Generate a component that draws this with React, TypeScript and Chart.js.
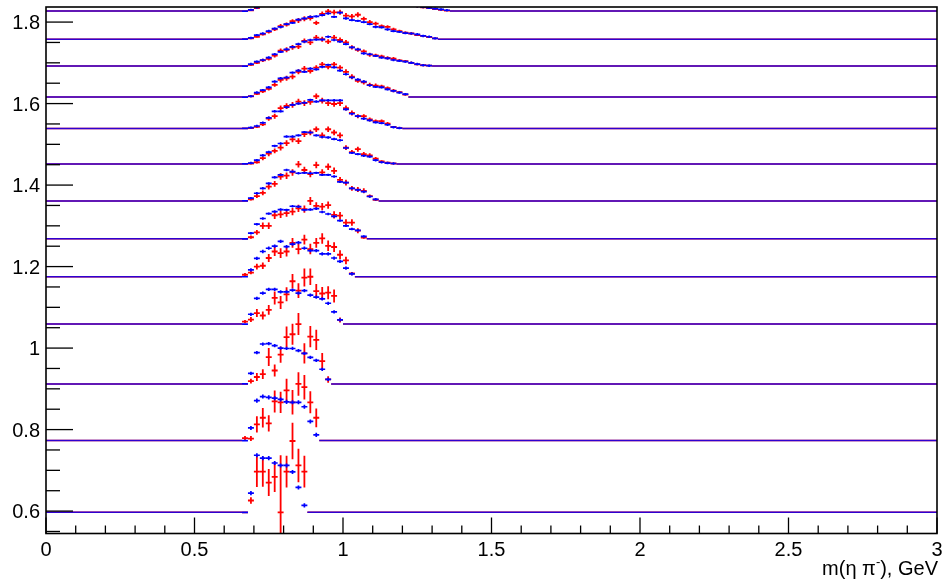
import React, { useEffect, useRef } from "react";
import { Chart, registerables } from "chart.js";
Chart.register(...registerables);

// ---------- axis / ticks ----------
const xMin = 0;
const xMax = 3;
const yMin = 0.545;
const yMax = 1.837;
const xMajorTicks = [0, 0.5, 1, 1.5, 2, 2.5, 3];
const xTickLabels = ["0", "0.5", "1", "1.5", "2", "2.5", "3"];
const yMajorTicks = [0.6, 0.8, 1.0, 1.2, 1.4, 1.6, 1.8];
const yTickLabels = ["0.6", "0.8", "1", "1.2", "1.4", "1.6", "1.8"];
const xMinorStep = 0.1;
const yMinorStep = 0.05;

// ---------- histogram binning ----------
const firstBinCenter = 0.67;
const binWidth = 0.02;

// baseline (vertical offset) of each stacked histogram, bottom to top
const rowOffsets = [0.597, 0.773, 0.912, 1.059, 1.175, 1.268, 1.361, 1.452, 1.539, 1.616, 1.692, 1.758, 1.827];

// blue histograms: content above the row baseline, bins from 0.67 in steps of 0.02
const blue0 = [0, 0.047, 0.140, 0.133, 0.133, 0.121, 0.115, 0.115, 0.099, 0.061, 0.017];
const blue1 = [0, 0.031, 0.098, 0.108, 0.106, 0.104, 0.101, 0.095, 0.094, 0.094, 0.083, 0.047, 0.014];
const blue2 = [0, 0.026, 0.077, 0.098, 0.099, 0.094, 0.088, 0.087, 0.087, 0.082, 0.075, 0.065, 0.058, 0.036, 0.011];
const blue3 = [0, 0.024, 0.063, 0.076, 0.085, 0.085, 0.079, 0.079, 0.083, 0.076, 0.082, 0.071, 0.066, 0.062, 0.051, 0.030, 0.010];
const blue4 = [0, 0.017, 0.045, 0.062, 0.070, 0.075, 0.087, 0.074, 0.080, 0.084, 0.070, 0.064, 0.064, 0.056, 0.056, 0.046, 0.038, 0.021, 0.007];
const blue5 = [0, 0.014, 0.036, 0.050, 0.062, 0.067, 0.072, 0.071, 0.080, 0.079, 0.071, 0.072, 0.074, 0.066, 0.061, 0.055, 0.045, 0.032, 0.024, 0.021, 0.006];
const blue6 = [0, 0.007, 0.019, 0.031, 0.043, 0.058, 0.064, 0.076, 0.072, 0.068, 0.069, 0.068, 0.069, 0.064, 0.064, 0.060, 0.047, 0.045, 0.031, 0.027, 0.023, 0.011, 0.004];
const blue7 = [0, 0.002, 0.009, 0.021, 0.029, 0.044, 0.050, 0.067, 0.067, 0.070, 0.078, 0.077, 0.070, 0.066, 0.065, 0.061, 0.058, 0.039, 0.027, 0.024, 0.020, 0.018, 0.009, 0.004, 0.002, 0.001];
const blue8 = [0, 0.002, 0.006, 0.014, 0.026, 0.042, 0.042, 0.052, 0.058, 0.061, 0.063, 0.070, 0.066, 0.069, 0.069, 0.069, 0.069, 0.047, 0.036, 0.030, 0.024, 0.020, 0.015, 0.013, 0.009, 0.003, 0.001];
const blue9 = [0, 0.002, 0.011, 0.017, 0.024, 0.038, 0.046, 0.048, 0.060, 0.065, 0.062, 0.070, 0.068, 0.074, 0.079, 0.073, 0.065, 0.056, 0.048, 0.043, 0.038, 0.029, 0.025, 0.024, 0.019, 0.015, 0.011, 0.007];
const blue10 = [0, 0.005, 0.011, 0.015, 0.021, 0.029, 0.035, 0.041, 0.047, 0.054, 0.060, 0.064, 0.065, 0.065, 0.072, 0.064, 0.060, 0.054, 0.046, 0.041, 0.031, 0.029, 0.025, 0.021, 0.019, 0.015, 0.013, 0.011, 0.008, 0.005, 0.002, 0.001];
const blue11 = [0, 0.003, 0.010, 0.014, 0.020, 0.026, 0.030, 0.037, 0.040, 0.048, 0.051, 0.055, 0.056, 0.059, 0.063, 0.055, 0.065, 0.051, 0.047, 0.045, 0.042, 0.037, 0.030, 0.029, 0.024, 0.020, 0.018, 0.015, 0.014, 0.012, 0.008, 0.006, 0.002];
const blue12 = [0, 0.003, 0.009, 0.014, 0.020, 0.026, 0.032, 0.037, 0.042, 0.047, 0.050, 0.054, 0.056, 0.059, 0.062, 0.062, 0.063, 0.058, 0.054, 0.050, 0.046, 0.042, 0.036, 0.032, 0.028, 0.024, 0.020, 0.017, 0.014, 0.012, 0.010, 0.008, 0.006, 0.004, 0.002];

// blue vertical error per row
const blueErr = [0.005, 0.005, 0.004, 0.004, 0.004, 0.003, 0.003, 0.003, 0.003, 0.003, 0.003, 0.003, 0.003];

// red histograms
const red0 = [0, 0.029, 0.100, 0.100, 0.073, 0.087, 0.000, 0.100, 0.175, 0.115, 0.100];
const red1 = [0.006, 0.005, 0.040, 0.056, 0.042, 0.096, 0.094, 0.123, 0.094, 0.139, 0.131, 0.094, 0.056];
const red2 = [0, 0.007, 0.017, 0.024, 0.066, 0.033, 0.072, 0.115, 0.122, 0.147, 0.075, 0.116, 0.108, 0.056, 0.011];
const red3 = [0.006, 0.011, 0.027, 0.021, 0.035, 0.064, 0.053, 0.073, 0.105, 0.082, 0.114, 0.116, 0.081, 0.075, 0.077, 0.069, 0.010];
const red4 = [0.005, 0.010, 0.025, 0.027, 0.046, 0.062, 0.058, 0.062, 0.083, 0.068, 0.091, 0.068, 0.083, 0.094, 0.076, 0.073, 0.054, 0.040, 0.008];
const red5 = [0, 0.004, 0.016, 0.032, 0.032, 0.058, 0.060, 0.063, 0.067, 0.075, 0.073, 0.093, 0.081, 0.079, 0.083, 0.059, 0.057, 0.040, 0.040, 0.020, 0.003];
const red6 = [0, 0.004, 0.012, 0.020, 0.035, 0.042, 0.060, 0.062, 0.070, 0.090, 0.076, 0.066, 0.088, 0.070, 0.084, 0.074, 0.052, 0.045, 0.031, 0.028, 0.025, 0.012, 0.003];
const red7 = [0, 0.001, 0.004, 0.014, 0.025, 0.032, 0.040, 0.051, 0.060, 0.056, 0.073, 0.077, 0.085, 0.070, 0.085, 0.077, 0.070, 0.040, 0.029, 0.036, 0.024, 0.021, 0.013, 0.006, 0.003, 0.001];
const red8 = [0, 0.001, 0.004, 0.010, 0.024, 0.030, 0.050, 0.055, 0.058, 0.066, 0.062, 0.065, 0.079, 0.068, 0.062, 0.060, 0.062, 0.050, 0.038, 0.030, 0.030, 0.022, 0.018, 0.018, 0.012, 0.004, 0.001];
const red9 = [0, 0.002, 0.008, 0.014, 0.020, 0.030, 0.042, 0.046, 0.050, 0.062, 0.070, 0.064, 0.072, 0.080, 0.074, 0.080, 0.072, 0.062, 0.050, 0.040, 0.036, 0.030, 0.028, 0.026, 0.022, 0.016, 0.012, 0.006];
const red10 = [0, 0.003, 0.008, 0.014, 0.018, 0.026, 0.038, 0.040, 0.046, 0.048, 0.062, 0.058, 0.070, 0.066, 0.060, 0.070, 0.064, 0.058, 0.046, 0.040, 0.036, 0.028, 0.026, 0.024, 0.020, 0.018, 0.014, 0.012, 0.008, 0.004, 0.002, 0.001];
const red11 = [0, 0.002, 0.006, 0.012, 0.018, 0.024, 0.032, 0.036, 0.044, 0.046, 0.050, 0.052, 0.040, 0.062, 0.068, 0.066, 0.066, 0.058, 0.056, 0.060, 0.050, 0.042, 0.038, 0.032, 0.030, 0.024, 0.020, 0.016, 0.014, 0.010, 0.008, 0.005, 0.002];
const red12 = [0, 0.002, 0.007, 0.013, 0.018, 0.027, 0.030, 0.038, 0.044, 0.045, 0.052, 0.050, 0.058, 0.062, 0.060, 0.066, 0.060, 0.056, 0.052, 0.048, 0.044, 0.040, 0.034, 0.030, 0.026, 0.022, 0.019, 0.016, 0.013, 0.012, 0.009, 0.007, 0.005, 0.003, 0.001];

// red vertical errors
const redErr0 = [0, 0.008, 0.038, 0.037, 0.033, 0.037, 0.140, 0.039, 0.045, 0.041, 0.039];
const redErr1 = [0.005, 0.006, 0.020, 0.024, 0.020, 0.027, 0.026, 0.029, 0.030, 0.029, 0.030, 0.027, 0.023];
const redErr2 = [0, 0.006, 0.010, 0.012, 0.022, 0.015, 0.020, 0.026, 0.026, 0.027, 0.025, 0.026, 0.025, 0.020, 0.008];
const redErr3 = [0.004, 0.006, 0.010, 0.010, 0.012, 0.016, 0.016, 0.017, 0.018, 0.018, 0.022, 0.020, 0.017, 0.016, 0.016, 0.016, 0.006];
const redErr4 = [0.004, 0.004, 0.007, 0.008, 0.010, 0.011, 0.012, 0.012, 0.012, 0.013, 0.012, 0.013, 0.012, 0.013, 0.013, 0.012, 0.011, 0.009, 0.004];
const redErr5 = [0, 0.004, 0.006, 0.008, 0.008, 0.009, 0.009, 0.009, 0.009, 0.009, 0.009, 0.010, 0.009, 0.009, 0.009, 0.009, 0.009, 0.008, 0.008, 0.006, 0.003];
const redErr6 = [0, 0.003, 0.005, 0.006, 0.007, 0.007, 0.008, 0.008, 0.008, 0.008, 0.008, 0.008, 0.008, 0.008, 0.008, 0.008, 0.007, 0.007, 0.006, 0.006, 0.006, 0.004, 0.003];
const redErr7 = [0, 0.002, 0.003, 0.005, 0.006, 0.006, 0.007, 0.007, 0.007, 0.007, 0.007, 0.007, 0.007, 0.007, 0.007, 0.007, 0.007, 0.006, 0.005, 0.006, 0.005, 0.005, 0.004, 0.003, 0.002, 0.001];
const redErr8 = [0, 0.001, 0.003, 0.004, 0.005, 0.006, 0.006, 0.007, 0.007, 0.007, 0.007, 0.007, 0.007, 0.007, 0.007, 0.007, 0.007, 0.006, 0.006, 0.005, 0.005, 0.005, 0.004, 0.004, 0.004, 0.002, 0.001];
const redErr9 = [0, 0.001, 0.003, 0.004, 0.004, 0.005, 0.006, 0.006, 0.006, 0.006, 0.006, 0.006, 0.006, 0.006, 0.006, 0.006, 0.006, 0.006, 0.006, 0.005, 0.005, 0.005, 0.005, 0.004, 0.004, 0.004, 0.003, 0.002];
const redErr10 = [0, 0.002, 0.003, 0.004, 0.004, 0.005, 0.005, 0.006, 0.006, 0.006, 0.006, 0.006, 0.006, 0.006, 0.006, 0.006, 0.006, 0.006, 0.005, 0.005, 0.005, 0.005, 0.004, 0.004, 0.004, 0.004, 0.003, 0.003, 0.003, 0.002, 0.001, 0.001];
const redErr11 = [0, 0.001, 0.002, 0.003, 0.004, 0.004, 0.005, 0.005, 0.005, 0.006, 0.006, 0.006, 0.005, 0.006, 0.006, 0.006, 0.006, 0.006, 0.006, 0.006, 0.005, 0.005, 0.005, 0.004, 0.004, 0.004, 0.003, 0.003, 0.003, 0.002, 0.002, 0.002, 0.001];
const redErr12 = [0, 0.001, 0.002, 0.003, 0.004, 0.004, 0.005, 0.005, 0.005, 0.005, 0.006, 0.006, 0.006, 0.006, 0.006, 0.006, 0.006, 0.006, 0.006, 0.005, 0.005, 0.005, 0.005, 0.004, 0.004, 0.004, 0.004, 0.003, 0.003, 0.003, 0.002, 0.002, 0.002, 0.001, 0.001];

const blueRows = [blue0, blue1, blue2, blue3, blue4, blue5, blue6, blue7, blue8, blue9, blue10, blue11, blue12];
const redRows = [red0, red1, red2, red3, red4, red5, red6, red7, red8, red9, red10, red11, red12];
const redErrRows = [redErr0, redErr1, redErr2, redErr3, redErr4, redErr5, redErr6, redErr7, redErr8, redErr9, redErr10, redErr11, redErr12];

const RED = "#ff0000";
const BLUE = "#0000ff";
const FONT = "'Liberation Sans', Arial, Helvetica, sans-serif";

function histPoints(values: number[], offset: number) {
  return values.map((v, i) => ({ x: firstBinCenter + i * binWidth, y: offset + v }));
}

function baselinePoints(values: number[], offset: number) {
  const lo = firstBinCenter - binWidth / 2;
  const hi = firstBinCenter + (values.length - 1) * binWidth + binWidth / 2;
  return [
    { x: xMin, y: offset },
    { x: lo, y: offset },
    { x: (lo + hi) / 2, y: null },
    { x: hi, y: offset },
    { x: xMax, y: offset },
  ];
}

const errorBarPlugin = {
  id: "rootErrorBars",
  afterDatasetsDraw(chart: any) {
    const { ctx, chartArea: a } = chart;
    const xs = chart.scales.x;
    const ys = chart.scales.y;
    ctx.save();
    ctx.beginPath();
    ctx.rect(a.left, a.top, a.right - a.left, a.bottom - a.top);
    ctx.clip();
    chart.data.datasets.forEach((ds: any) => {
      if (!ds.errs) return;
      ctx.strokeStyle = ds.borderColor;
      ctx.lineWidth = ds.errWidth;
      ds.data.forEach((p: any, j: number) => {
        const py = ys.getPixelForValue(p.y);
        const x0 = xs.getPixelForValue(p.x - binWidth / 2);
        const x1 = xs.getPixelForValue(p.x + binWidth / 2);
        ctx.beginPath();
        ctx.moveTo(x0, py);
        ctx.lineTo(x1, py);
        ctx.stroke();
        const e = ds.errs[j];
        if (e > 0) {
          const px = xs.getPixelForValue(p.x);
          ctx.beginPath();
          ctx.moveTo(px, ys.getPixelForValue(p.y - e));
          ctx.lineTo(px, ys.getPixelForValue(p.y + e));
          ctx.stroke();
        }
      });
    });
    ctx.restore();
  },
};

const frameAxesPlugin = {
  id: "rootFrameAxes",
  beforeDraw(chart: any) {
    const { ctx, width, height } = chart;
    ctx.save();
    ctx.fillStyle = "#ffffff";
    ctx.fillRect(0, 0, width, height);
    ctx.restore();
  },
  afterDraw(chart: any) {
    const { ctx, chartArea: a } = chart;
    const xs = chart.scales.x;
    const ys = chart.scales.y;
    ctx.save();
    ctx.strokeStyle = "#000";
    ctx.lineWidth = 1.3;
    const nY0 = Math.ceil(yMin / yMinorStep - 1e-6);
    const nY1 = Math.floor(yMax / yMinorStep + 1e-6);
    for (let i = nY0; i <= nY1; i++) {
      const v = i * yMinorStep;
      const major = yMajorTicks.some((t) => Math.abs(t - v) < 1e-6);
      const py = ys.getPixelForValue(v);
      ctx.beginPath();
      ctx.moveTo(a.left, py);
      ctx.lineTo(a.left + (major ? 27 : 14), py);
      ctx.stroke();
    }
    const nX1 = Math.round((xMax - xMin) / xMinorStep);
    for (let i = 0; i <= nX1; i++) {
      const v = xMin + i * xMinorStep;
      const major = xMajorTicks.some((t) => Math.abs(t - v) < 1e-6);
      const px = xs.getPixelForValue(v);
      ctx.beginPath();
      ctx.moveTo(px, a.bottom);
      ctx.lineTo(px, a.bottom - (major ? 16 : 8));
      ctx.stroke();
    }
    ctx.lineWidth = 1.6;
    ctx.strokeRect(a.left, a.top, a.right - a.left, a.bottom - a.top);
    ctx.fillStyle = "#000";
    ctx.font = `20px ${FONT}`;
    ctx.textAlign = "right";
    ctx.textBaseline = "alphabetic";
    yMajorTicks.forEach((t, i) => {
      ctx.fillText(yTickLabels[i], a.left - 6, ys.getPixelForValue(t) + 7.3);
    });
    ctx.textAlign = "center";
    xMajorTicks.forEach((t, i) => {
      ctx.fillText(xTickLabels[i], xs.getPixelForValue(t), a.bottom + 22.5);
    });
    // axis title: m(η π⁻), GeV
    const part1 = "m(\u03b7 \u03c0";
    const sup = "-";
    const part2 = "), GeV";
    ctx.font = `20px ${FONT}`;
    const w1 = ctx.measureText(part1).width;
    const w3 = ctx.measureText(part2).width;
    ctx.font = `13px ${FONT}`;
    const w2 = ctx.measureText(sup).width;
    const right = a.right + 1;
    const base = a.bottom + 41.5;
    const start = right - (w1 + w2 + w3);
    ctx.textAlign = "left";
    ctx.font = `20px ${FONT}`;
    ctx.fillText(part1, start, base);
    ctx.font = `13px ${FONT}`;
    ctx.fillText(sup, start + w1, base - 9);
    ctx.font = `20px ${FONT}`;
    ctx.fillText(part2, start + w1 + w2, base);
    ctx.restore();
  },
};

export default function App() {
  const ref = useRef<HTMLCanvasElement>(null);
  useEffect(() => {
    const datasets: any[] = [];
    rowOffsets.forEach((off, r) => {
      // red baseline drawn first (higher order), blue on top
      datasets.push({
        type: "line",
        order: 2,
        data: baselinePoints(redRows[r], off),
        borderColor: RED,
        borderWidth: 1.5,
        pointRadius: 0,
        spanGaps: false,
        fill: false,
        tension: 0,
      });
      datasets.push({
        type: "line",
        order: 1,
        data: baselinePoints(blueRows[r], off),
        borderColor: "rgba(0,0,255,0.82)",
        borderWidth: 1.5,
        pointRadius: 0,
        spanGaps: false,
        fill: false,
        tension: 0,
      });
    });
    rowOffsets.forEach((off, r) => {
      datasets.push({
        type: "scatter",
        order: 0,
        data: histPoints(redRows[r], off),
        borderColor: RED,
        backgroundColor: RED,
        pointRadius: 0,
        pointHoverRadius: 0,
        showLine: false,
        errs: redErrRows[r],
        errWidth: 1.8,
      });
    });
    rowOffsets.forEach((off, r) => {
      datasets.push({
        type: "scatter",
        order: 0,
        data: histPoints(blueRows[r], off),
        borderColor: BLUE,
        backgroundColor: BLUE,
        pointRadius: 0,
        pointHoverRadius: 0,
        showLine: false,
        errs: blueRows[r].map((v) => (v > 0 ? blueErr[r] : 0)),
        errWidth: 1.7,
      });
    });
    const chart = new Chart(ref.current as HTMLCanvasElement, {
      type: "scatter",
      data: { datasets },
      options: {
        animation: false,
        responsive: false,
        maintainAspectRatio: false,
        devicePixelRatio: 1,
        events: [],
        layout: { padding: { left: 46, right: 10, top: 7, bottom: 51.5 } },
        plugins: { legend: { display: false }, tooltip: { enabled: false }, title: { display: false } },
        scales: {
          x: { type: "linear", min: xMin, max: xMax, display: false },
          y: { type: "linear", min: yMin, max: yMax, display: false },
        },
      } as any,
      plugins: [frameAxesPlugin, errorBarPlugin],
    } as any);
    return () => chart.destroy();
  }, []);
  return (
    <div style={{ position: "fixed", left: 0, top: 0, width: 947, height: 585, background: "#fff" }}>
      <canvas ref={ref} width={947} height={585} style={{ display: "block", width: 947, height: 585 }} />
    </div>
  );
}
